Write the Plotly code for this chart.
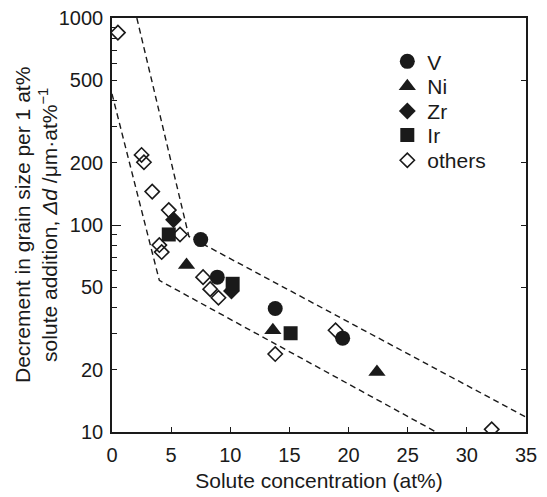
import plotly.graph_objects as go

# ---- data ----
v_x = [7.5, 8.9, 13.8, 19.5]
v_y = [85, 56, 39.5, 28.4]
ni_x = [6.3, 13.6, 22.4]
ni_y = [64, 31, 19.5]
zr_x = [5.2, 10.1]
zr_y = [106, 48]
ir_x = [4.8, 10.2, 15.1]
ir_y = [90, 52, 30]
oth_x = [0.5, 2.5, 2.7, 3.4, 4.8, 5.75, 4.0, 4.2, 7.7, 8.3, 9.0, 13.8, 18.9, 32.1]
oth_y = [850, 218, 201, 145, 118, 90, 80, 74, 56, 49, 44.5, 23.8, 31, 10.3]

upper_x = [2.1, 6.5, 35]
upper_y = [1000, 88, 11.8]
lower_x = [0, 4.0, 27.4]
lower_y = [430, 54, 10]

x_ticks = [0, 5, 10, 15, 20, 25, 30, 35]
y_ticks = [10, 20, 50, 100, 200, 500, 1000]
y_major_long = [10, 100, 1000]
y_minor = [30, 40, 60, 70, 80, 90, 300, 400, 600, 700, 800, 900]
y_right = [20, 50, 100, 200, 500]

INK = "#1a1a1a"
FONT = "Liberation Sans, Arial, sans-serif"

fig = go.Figure()

dash = dict(color=INK, width=1.4, dash="6px,4px")
fig.add_trace(go.Scatter(x=upper_x, y=upper_y, mode="lines", line=dash,
                         showlegend=False, hoverinfo="skip"))
fig.add_trace(go.Scatter(x=lower_x, y=lower_y, mode="lines", line=dash,
                         showlegend=False, hoverinfo="skip"))

fig.add_trace(go.Scatter(x=oth_x, y=oth_y, mode="markers", name="others",
                         marker=dict(symbol="diamond-open", size=11, color=INK,
                                     line=dict(width=1.6, color=INK)),
                         showlegend=False))
fig.add_trace(go.Scatter(x=v_x, y=v_y, mode="markers", name="V", legend="legend",
                         marker=dict(symbol="circle", size=15, color=INK)))
fig.add_trace(go.Scatter(x=ni_x, y=ni_y, mode="markers", name="Ni", legend="legend2",
                         marker=dict(symbol="triangle-up", size=15, color=INK)))
fig.add_trace(go.Scatter(x=zr_x, y=zr_y, mode="markers", name="Zr", legend="legend3",
                         marker=dict(symbol="diamond", size=13, color=INK)))
fig.add_trace(go.Scatter(x=ir_x, y=ir_y, mode="markers", name="Ir", legend="legend4",
                         marker=dict(symbol="square", size=14, color=INK)))
# legend entry for "others" (same style)
fig.add_trace(go.Scatter(x=[None], y=[None], mode="markers", name="others", legend="legend5",
                         marker=dict(symbol="diamond-open", size=11, color=INK,
                                     line=dict(width=1.6, color=INK))))

# helper traces so the overlay axes are drawn
fig.add_trace(go.Scatter(x=[None], y=[None], yaxis="y2", showlegend=False, hoverinfo="skip"))
fig.add_trace(go.Scatter(x=[None], y=[None], yaxis="y3", showlegend=False, hoverinfo="skip"))

def leg(ypos):
    return dict(x=0.665, y=ypos, xanchor="left", yanchor="top",
                bgcolor="rgba(0,0,0,0)", font=dict(size=21), itemsizing="trace")

fig.update_layout(
    width=547, height=497,
    margin=dict(l=112, r=21, t=18, b=65),
    paper_bgcolor="white", plot_bgcolor="white",
    font=dict(family=FONT, size=20, color=INK),
    legend=leg(0.944), legend2=leg(0.884), legend3=leg(0.824),
    legend4=leg(0.766), legend5=leg(0.705),
    xaxis=dict(range=[0, 35], tickvals=x_ticks, ticks="inside", ticklen=5,
               tickwidth=1.4, tickcolor=INK, showgrid=False, zeroline=False,
               showline=True, linewidth=1.6, linecolor=INK, mirror=True,
               ticklabelstandoff=4, automargin=False,
               title=dict(text="Solute concentration (at%)", font=dict(size=21),
                          standoff=9)),
    yaxis=dict(type="log", range=[1, 3], tickvals=y_ticks,
               ticktext=[str(v) for v in y_ticks],
               ticks="inside", ticklen=5, tickwidth=1.4, tickcolor=INK,
               ticklabelstandoff=3, automargin=False,
               minor=dict(tickvals=y_minor, ticks="inside", ticklen=5,
                          tickwidth=1.4, tickcolor=INK, showgrid=False),
               showgrid=False, zeroline=False, showline=True, linewidth=1.6,
               linecolor=INK, mirror=True),
    yaxis2=dict(type="log", range=[1, 3], overlaying="y", side="left",
                tickvals=y_major_long, ticks="inside", ticklen=9, tickwidth=1.4,
                tickcolor=INK, showticklabels=False, showgrid=False,
                zeroline=False, showline=False, automargin=False),
    yaxis3=dict(type="log", range=[1, 3], overlaying="y", side="right",
                tickvals=y_right, ticks="inside", ticklen=5, tickwidth=1.4,
                tickcolor=INK, showticklabels=False, showgrid=False,
                zeroline=False, showline=False, automargin=False),
    annotations=[dict(
        text="Decrement in grain size per 1 at%<br>"
             "solute addition, <i>Δd</i> /μm·at%<sup>−1</sup>",
        xref="paper", yref="paper", x=0, y=0.5, xanchor="center", yanchor="middle",
        xshift=-76, textangle=-90, showarrow=False, font=dict(size=21),
    )],
)

fig.write_html("out.html")
